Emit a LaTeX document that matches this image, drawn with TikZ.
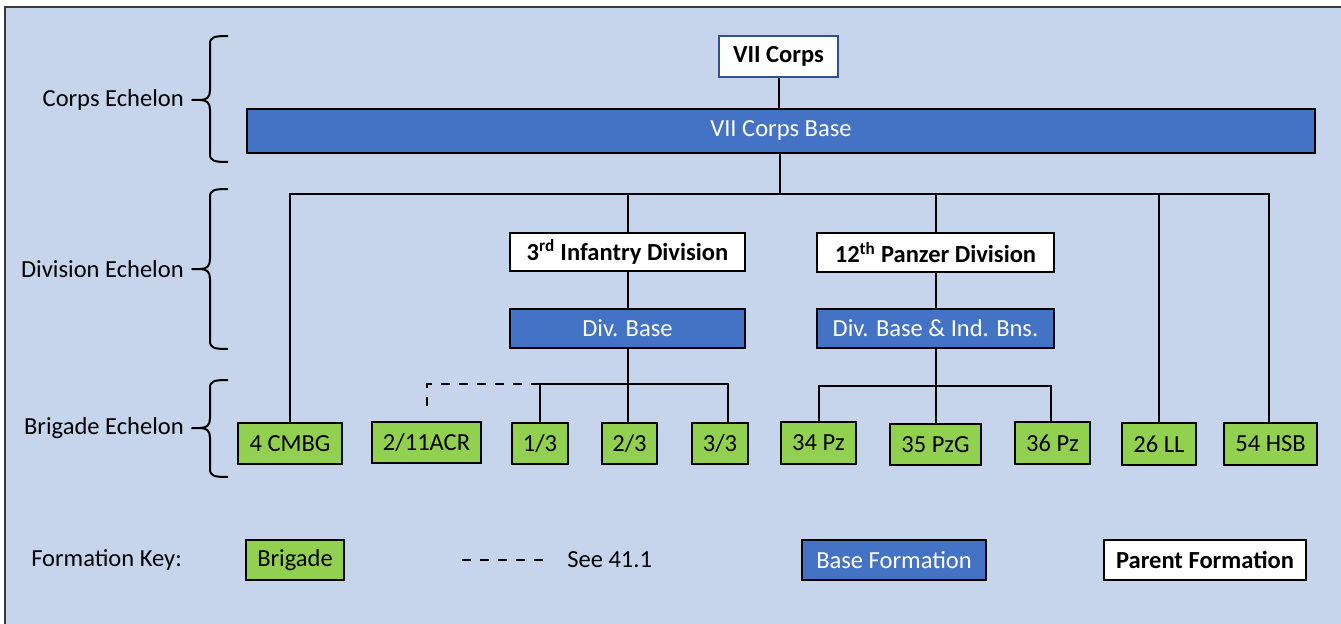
\documentclass[tikz,border=0pt]{standalone}
\usepackage{fontspec}
\setmainfont{Carlito}
\usetikzlibrary{calc}
\definecolor{bgblue}{RGB}{198,212,236}
\definecolor{baseblue}{HTML}{4472C4}
\definecolor{brigreen}{HTML}{92D050}
\definecolor{corpsedge}{HTML}{2F528F}
\definecolor{framegray}{HTML}{3A3A3A}
\newcommand\mybox[7]{\node[#6, minimum width={(#4-#2)*0.75pt}, minimum height={(#5-#3)*0.75pt}] (#1) at ({(#2+#4)/2},{(#3+#5)/2}) {#7};}
\newcommand\mybrace[3]{\draw[bracel] (228,#1) .. controls (214,#1) and (210,{#1+1}) .. (210,{#1+8}) -- (210,{#2-10}) .. controls (210,{#2-3}) and (207,#2) .. (200,#2) -- (192,#2) -- (200,#2) .. controls (207,#2) and (210,{#2+3}) .. (210,{#2+10}) -- (210,{#3-8}) .. controls (210,{#3-1}) and (214,#3) .. (228,#3);}
\begin{document}
\begin{tikzpicture}[x=0.75pt,y=-0.75pt,
  font=\fontsize{18.4}{22}\selectfont,
  box/.style={draw=black, line width=1.8pt, inner sep=0pt, rectangle},
  brig/.style={box, fill=brigreen},
  basef/.style={box, fill=baseblue, text=white},
  parent/.style={box, fill=white, font=\fontsize{18.4}{22}\selectfont\bfseries},
  corps/.style={parent, draw=corpsedge, line width=1.6pt},
  conn/.style={line width=1.5pt, draw=black},
  dconn/.style={conn, dash pattern=on 7pt off 6.5pt},
  bracel/.style={line width=1.5pt, draw=black, line join=round},
  lab/.style={anchor=east, inner sep=0pt}]
\useasboundingbox (0,0) rectangle (1341,624);
\clip (0,0) rectangle (1341,624);
\fill[white] (0,0) rectangle (1341,624);
\filldraw[fill=bgblue, draw=framegray, line width=1.6pt] (5,7) rectangle (1370,650);

% braces and echelon labels
\mybrace{36}{100}{162}
\mybrace{189}{269}{349}
\mybrace{380}{428}{477}
\node[lab] (lc) at (184,100) {Corps Echelon};
\node[lab] (ld) at (184,269) {Division Echelon};
\node[lab] (lb) at (184,428) {Brigade Echelon};

% corps
\mybox{vii}{719}{36}{838}{77}{corps}{VII Corps}
\mybox{base}{247}{109}{1315}{153}{basef}{VII Corps Base}

% divisions
\mybox{id3}{510}{233}{745}{271}{parent}{3\textsuperscript{rd} Infantry Division}
\mybox{pz12}{817}{233}{1054}{272}{parent}{12\textsuperscript{th} Panzer Division}
\mybox{db3}{510}{309}{745}{348}{basef}{Div. Base}
\mybox{db12}{817}{309}{1054}{348}{basef}{Div. Base \& Ind. Bns.}

% brigades
\mybox{cmbg}{238}{423}{342}{464}{brig}{4 CMBG}
\mybox{acr}{372}{422}{481}{463}{brig}{2/11ACR}
\mybox{b13}{512}{423}{568}{464}{brig}{1/3}
\mybox{b23}{602}{423}{657}{464}{brig}{2/3}
\mybox{b33}{692}{423}{748}{464}{brig}{3/3}
\mybox{b34}{781}{422}{856}{464}{brig}{34 Pz}
\mybox{b35}{890}{424}{981}{465}{brig}{35 PzG}
\mybox{b36}{1015}{422}{1090}{464}{brig}{36 Pz}
\mybox{ll}{1122}{423}{1196}{465}{brig}{26 LL}
\mybox{hsb}{1224}{423}{1317}{465}{brig}{54 HSB}

% connectors
\coordinate (j1) at (780,194);
\coordinate (j2) at (628,384);
\coordinate (j3) at (936,386);
\coordinate (dend) at (427,413);
\draw[conn] (vii.south) -- (vii.south |- base.north);
\draw[conn] (base.south -| j1) -- (j1);
\draw[conn] (cmbg.north) |- (j1) -| ([xshift=-1pt]hsb.north);
\draw[conn] (id3.north) -- (id3.north |- j1);
\draw[conn] (pz12.north) -- (pz12.north |- j1);
\draw[conn] (ll.north) -- (ll.north |- j1);
\draw[conn] (id3.south) -- (db3.north);
\draw[conn] (pz12.south) -- (db12.north);
\draw[conn] (db3.south) -- (db3.south |- b23.north);
\draw[conn] (b13.north) |- (j2) -| ([xshift=6pt]b33.north);
\draw[dconn] (b13.north |- j2) -| (dend);
\draw[conn] (db12.south) -- (db12.south |- b35.north);
\draw[conn] (b34.north) |- (j3) -| ([xshift=-1.5pt]b36.north);

% legend
\node[anchor=west, inner sep=0pt] (fk) at (31,560) {Formation Key:};
\mybox{kb}{246}{540}{344}{580}{brig}{Brigade}
\coordinate (kd1) at (462,560);
\coordinate (kd2) at (550,560);
\draw[dconn] (kd1) -- (kd2);
\node[anchor=west, inner sep=0pt] (ks) at (567,560) {See 41.1};
\mybox{kbase}{802}{540}{986}{580}{basef}{Base Formation}
\mybox{kpar}{1104}{540}{1306}{580}{parent}{Parent Formation}
\end{tikzpicture}
\end{document}
